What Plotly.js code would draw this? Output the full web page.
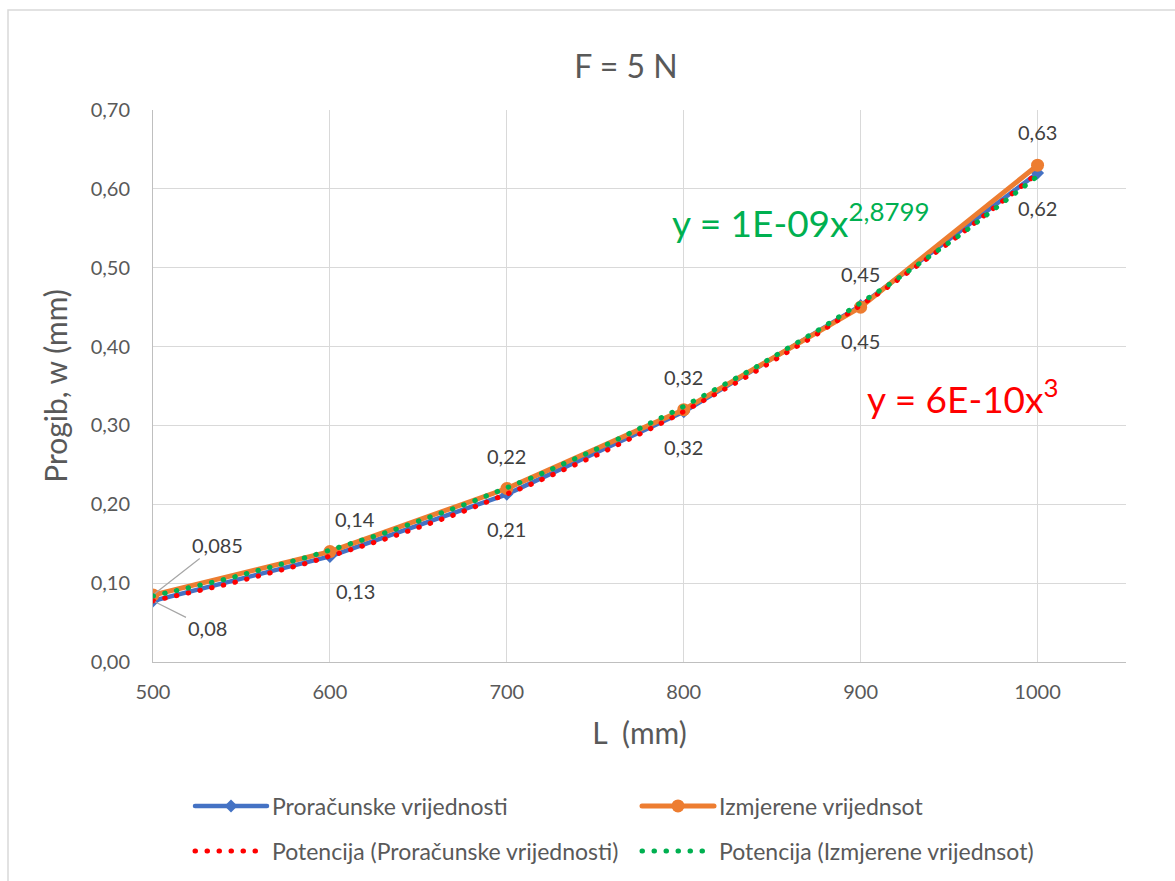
<!DOCTYPE html>
<html>
<head>
<meta charset="utf-8">
<script src="https://cdn.plot.ly/plotly-3.0.1.min.js"></script>
<style>
html,body{margin:0;padding:0;background:#fff;}
#chart{width:1175px;height:881px;}
path.js-line{stroke-linecap:round !important;stroke-linejoin:round !important;}
</style>
</head>
<body>
<div id="chart"></div>
<script>
// ---- data ----
const lengths = [500, 600, 700, 800, 900, 1000];              // L (mm)
const calculated = [0.0775, 0.1339, 0.2127, 0.3174, 0.4520, 0.6200]; // Proračunske vrijednosti
const measured = [0.085, 0.14, 0.22, 0.32, 0.45, 0.63];        // Izmjerene vrijednsot
const seriesNames = ['Proračunske vrijednosti', 'Izmjerene vrijednsot',
  'Potencija (Proračunske vrijednosti)', 'Potencija (Izmjerene vrijednsot)'];
const eqCalcText = 'y = 6E-10x<sup>3</sup>';
const eqMeasText = 'y = 1E-09x<sup>2,8799</sup>';

// power trendline (least squares in log-log space), as the spreadsheet does
function powerFit(xs, ys) {
  const lx = xs.map(Math.log), ly = ys.map(Math.log);
  const n = xs.length;
  const mx = lx.reduce((a, b) => a + b, 0) / n, my = ly.reduce((a, b) => a + b, 0) / n;
  let sxy = 0, sxx = 0;
  for (let i = 0; i < n; i++) { sxy += (lx[i] - mx) * (ly[i] - my); sxx += (lx[i] - mx) ** 2; }
  const b = sxy / sxx, a = Math.exp(my - b * mx);
  const tx = [], ty = [];
  const x0 = xs[0], x1 = xs[n - 1], steps = 100;
  for (let i = 0; i <= steps; i++) { const x = x0 + (x1 - x0) * i / steps; tx.push(x); ty.push(a * Math.pow(x, b)); }
  return {x: tx, y: ty};
}
const fitCalc = powerFit(lengths, calculated);
const fitMeas = powerFit(lengths, measured);

const FONT = 'Lato, "Open Sans", sans-serif';
const GREY = '#595959';
const LABEL = '#404040';

const traces = [
  {x: lengths, y: calculated, name: seriesNames[0], type: 'scatter', mode: 'lines+markers',
   line: {color: '#4472C4', width: 4.5}, marker: {symbol: 'diamond', size: 10, color: '#4472C4'}, legend: 'legend'},
  {x: lengths, y: measured, name: seriesNames[1], type: 'scatter', mode: 'lines+markers',
   line: {color: '#ED7D31', width: 5}, marker: {symbol: 'circle', size: 13, color: '#ED7D31'}, legend: 'legend'},
  {x: fitCalc.x, y: fitCalc.y, name: seriesNames[2], type: 'scatter', mode: 'lines',
   line: {color: '#FF0000', width: 5, dash: '0.5px,11.5px'}, legend: 'legend2'},
  {x: fitMeas.x, y: fitMeas.y, name: seriesNames[3], type: 'scatter', mode: 'lines',
   line: {color: '#00B050', width: 5, dash: '0.5px,11.5px'}, legend: 'legend2'}
];

function fmt2(v) { return v.toFixed(2).replace('.', ','); }
function fmtG(v) { return String(v).replace('.', ','); }

const LBL = {family: FONT, size: 20, color: LABEL};
const annotations = [];
// calculated labels (below)
lengths.forEach((x, i) => {
  if (i === 0) {
    annotations.push({x: x, y: calculated[i], text: fmt2(calculated[i]), showarrow: true, arrowhead: 0,
      arrowwidth: 1.2, arrowcolor: '#A6A6A6', ax: 54, ay: 27, standoff: 2, font: LBL});
  } else {
    annotations.push({x: x, y: calculated[i], text: fmt2(calculated[i]), showarrow: false,
      xshift: i === 1 ? 26 : 0, yshift: -35, font: LBL});
  }
});
// measured labels (above)
lengths.forEach((x, i) => {
  if (i === 0) {
    annotations.push({x: x, y: measured[i], text: fmtG(measured[i]), showarrow: true, arrowhead: 0,
      arrowwidth: 1.2, arrowcolor: '#A6A6A6', ax: 64, ay: -50, standoff: 2, font: LBL});
  } else {
    annotations.push({x: x, y: measured[i], text: fmtG(measured[i]), showarrow: false,
      xshift: i === 1 ? 25 : 0, yshift: 33, font: LBL});
  }
});
// trendline equations
annotations.push({x: 866, y: 0.56, text: eqMeasText, showarrow: false,
  font: {family: FONT, size: 37, color: '#00B050'}});
annotations.push({x: 958, y: 0.337, text: eqCalcText, showarrow: false,
  font: {family: FONT, size: 37, color: '#FF0000'}});

const W = 973, H = 552, L0 = 153, T0 = 110;
const px = p => (p - L0) / W;
const py = p => (T0 + H - p) / H;

const LEG = {orientation: 'h', xanchor: 'left', yanchor: 'middle', entrywidth: 360, entrywidthmode: 'pixels',
  itemwidth: 72, font: {family: FONT, size: 23, color: GREY}, bgcolor: 'rgba(0,0,0,0)'};

const layout = {
  width: 1175, height: 881,
  margin: {l: 153, r: 49, t: 110, b: 219, autoexpand: false},
  paper_bgcolor: '#ffffff', plot_bgcolor: '#ffffff',
  separators: ',.',
  font: {family: FONT, color: GREY, size: 20},
  title: {text: 'F = 5 N', font: {family: FONT, size: 32, color: GREY}, x: px(626), xref: 'paper',
    xanchor: 'center', y: 1 - 67 / 881, yanchor: 'middle'},
  xaxis: {range: [500, 1050], dtick: 100, tick0: 500, showgrid: true, gridcolor: '#D9D9D9', gridwidth: 1,
    zeroline: false, showline: true, linecolor: '#BFBFBF', linewidth: 1, ticks: '', ticklabelstandoff: 12,
    automargin: false, tickfont: {family: FONT, size: 20, color: GREY},
    title: {text: 'L\u00A0\u00A0(mm)', font: {family: FONT, size: 30, color: GREY}, standoff: 20}},
  yaxis: {range: [0, 0.7], dtick: 0.1, tickformat: '.2f', showgrid: true, gridcolor: '#D9D9D9', gridwidth: 1,
    zeroline: false, showline: true, linecolor: '#BFBFBF', linewidth: 1, ticks: '', ticklabelstandoff: 18,
    automargin: false, tickfont: {family: FONT, size: 20, color: GREY},
    title: {text: 'Progib, w (mm)', font: {family: FONT, size: 30, color: GREY}, standoff: 14}},
  showlegend: true,
  legend: Object.assign({x: px(190), y: py(806)}, LEG),
  legend2: Object.assign({x: px(190), y: py(851)}, LEG),
  annotations: annotations,
  shapes: [{type: 'rect', xref: 'paper', yref: 'paper', x0: px(8), x1: px(1190), y0: py(10), y1: py(900),
    line: {color: '#D9D9D9', width: 1.5}, fillcolor: 'rgba(0,0,0,0)', layer: 'below'}]
};

Plotly.newPlot('chart', traces, layout, {displayModeBar: false, responsive: false});
</script>
</body>
</html>
